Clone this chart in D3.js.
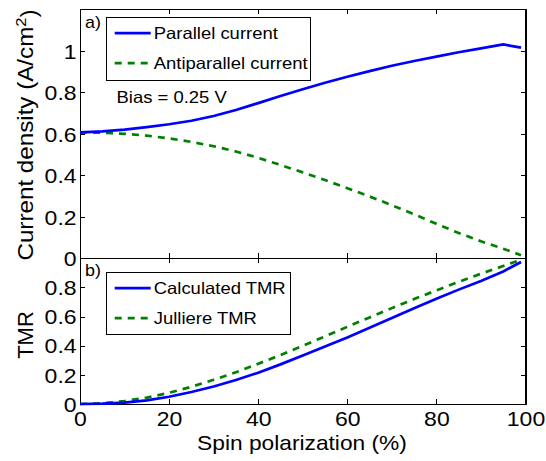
<!DOCTYPE html>
<html>
  <head>
    <meta charset="utf-8">
    <script src="https://d3js.org/d3.v7.min.js"></script>
    <style>
      body { margin: 0; background: #fff; }
      text { font-family: "Liberation Sans", Arial, Helvetica, sans-serif; fill: #000; }
      .axis path, .axis line { stroke: #000; stroke-width: 1; shape-rendering: crispEdges; }
    </style>
  </head>
<body>
<script type="text/javascript">
  // spin polarization (%) shared by all curves
  var polarization = [0, 5, 10, 15, 20, 25, 30, 35, 40, 45, 50, 55, 60, 65, 70, 75, 80, 85, 90, 95, 99];

  // panel a) current density (A/cm^2)
  var parallelCurrent = [0.607, 0.612, 0.620, 0.632, 0.646, 0.663, 0.686, 0.715, 0.748, 0.782, 0.815, 0.846, 0.875, 0.902, 0.928, 0.951, 0.972, 0.993, 1.012, 1.031, 1.015];
  var antiparallelCurrent = [0.607, 0.605, 0.600, 0.591, 0.578, 0.561, 0.540, 0.515, 0.484, 0.450, 0.414, 0.377, 0.338, 0.298, 0.256, 0.212, 0.166, 0.122, 0.082, 0.046, 0.015];

  // panel b) TMR
  var calculatedTMR = [0, 0.002, 0.010, 0.025, 0.050, 0.082, 0.120, 0.165, 0.215, 0.272, 0.333, 0.395, 0.457, 0.523, 0.590, 0.657, 0.722, 0.785, 0.845, 0.910, 0.975];
  var julliereTMR = [0, 0.005, 0.020, 0.044, 0.077, 0.118, 0.166, 0.218, 0.276, 0.336, 0.400, 0.464, 0.530, 0.594, 0.658, 0.720, 0.780, 0.838, 0.894, 0.947, 0.990];

  var xTicks = [0, 20, 40, 60, 80, 100];
  var yTicksA = [0, 0.2, 0.4, 0.6, 0.8, 1];
  var yTicksB = [0, 0.2, 0.4, 0.6, 0.8];

  function draw() {
    "use strict";
    var width = 546, height = 461;
    var left = 80, right = 525.5;
    var topA = 9.3, bottomA = 258.3, bottomB = 404;
    var sx = 1.12; // text in the figure is a bit wider than Helvetica
    var tickSize = "20px";
    var blue = "#0000ff", green = "#008000";

    var svg = d3.select("body").append("svg")
        .attr("width", width)
        .attr("height", height);

    var x = d3.scaleLinear().domain([0, 100]).range([left, right]);
    var yA = d3.scaleLinear().domain([0, 1.2]).range([bottomA, topA]);
    var yB = d3.scaleLinear().domain([0, 1]).range([bottomB, bottomA]);

    function stretch(sel, s) {
      sel.attr("transform", "scale(" + (s || 1.15) + ",1)");
    }

    // box with inward ticks on all four sides (matlab style)
    function panel(y, yTicks, showX) {
      var g = svg.append("g");
      var y0 = y.range()[0], y1 = y.range()[1];

      var bx = g.append("g").attr("class", "axis")
          .attr("transform", "translate(0," + y0 + ")")
          .call(d3.axisBottom(x).tickValues(xTicks).tickSizeInner(-5).tickSizeOuter(0).tickPadding(8));
      bx.selectAll("text").style("font-size", tickSize).attr("dy", "0.7em").call(stretch);
      if (!showX) bx.selectAll("text").remove();

      var tx = g.append("g").attr("class", "axis")
          .attr("transform", "translate(0," + y1 + ")")
          .call(d3.axisTop(x).tickValues(xTicks).tickSizeInner(-5).tickSizeOuter(0));
      tx.selectAll("text").remove();

      var ly = g.append("g").attr("class", "axis")
          .attr("transform", "translate(" + left + ",0)")
          .call(d3.axisLeft(y).tickValues(yTicks).tickSizeInner(-5).tickSizeOuter(0).tickPadding(3)
            .tickFormat(function (d) { return d === 0 ? "0" : d === 1 ? "1" : d3.format(".1f")(d); }));
      ly.selectAll("text").style("font-size", tickSize).attr("dy", "0.36em").call(stretch);

      var ry = g.append("g").attr("class", "axis")
          .attr("transform", "translate(" + right + ",0)")
          .call(d3.axisRight(y).tickValues(yTicks).tickSizeInner(-5).tickSizeOuter(0));
      ry.selectAll("text").remove();

      g.append("rect")
          .attr("x", left).attr("y", y1)
          .attr("width", right - left).attr("height", y0 - y1)
          .attr("fill", "none").attr("stroke", "#000").attr("shape-rendering", "crispEdges");
      return g;
    }

    function curve(y, values, color, dashed) {
      var line = d3.line()
          .x(function (d, i) { return x(polarization[i]); })
          .y(function (d) { return y(d); });
      svg.append("path")
          .datum(values)
          .attr("d", line)
          .attr("fill", "none")
          .attr("stroke", color)
          .attr("stroke-width", 2.7)
          .attr("stroke-dasharray", dashed ? "7,6" : null);
    }

    function legend(x0, y0, w, h, rows) {
      var g = svg.append("g");
      g.append("rect")
          .attr("x", x0).attr("y", y0).attr("width", w).attr("height", h)
          .attr("fill", "#fff").attr("stroke", "#000").attr("shape-rendering", "crispEdges");
      rows.forEach(function (r, i) {
        var cy = y0 + 15.5 + i * 30;
        g.append("line")
            .attr("x1", x0 + 8).attr("x2", x0 + 44)
            .attr("y1", cy).attr("y2", cy)
            .attr("stroke", r.color).attr("stroke-width", 2.7)
            .attr("stroke-dasharray", r.dashed ? "7,6" : null);
        g.append("text")
            .attr("x", (x0 + 47) / sx).attr("y", cy)
            .attr("dy", "0.36em")
            .style("font-size", "16.5px")
            .attr("transform", "scale(" + sx + ",1)")
            .text(r.label);
      });
    }

    function label(txt, x0, y0, size) {
      return svg.append("text")
          .attr("x", x0 / sx).attr("y", y0)
          .attr("transform", "scale(" + sx + ",1)")
          .style("font-size", size + "px")
          .text(txt);
    }

    // panel a)
    panel(yA, yTicksA, false);
    curve(yA, antiparallelCurrent, green, true);
    curve(yA, parallelCurrent, blue, false);
    legend(106.7, 17.7, 204, 62.3, [
      { label: "Parallel current", color: blue, dashed: false },
      { label: "Antiparallel current", color: green, dashed: true }
    ]);
    label("a)", 85, 28, 16);
    label("Bias = 0.25 V", 116.5, 103, 16.5);

    // panel b)
    panel(yB, yTicksB, true);
    curve(yB, julliereTMR, green, true);
    curve(yB, calculatedTMR, blue, false);
    legend(106.7, 272.7, 183.3, 61.6, [
      { label: "Calculated TMR", color: blue, dashed: false },
      { label: "Julliere TMR", color: green, dashed: true }
    ]);
    label("b)", 85, 276.5, 16);

    // axis titles
    svg.append("text")
        .attr("x", 302 / 1.11).attr("y", 450.5)
        .attr("transform", "scale(1.11,1)")
        .attr("text-anchor", "middle")
        .style("font-size", "20.5px")
        .text("Spin polarization (%)");

    var yl = svg.append("text")
        .attr("transform", "translate(32.5,135) rotate(-90) scale(1.1,1)")
        .attr("text-anchor", "middle")
        .style("font-size", "22px");
    yl.append("tspan").text("Current density (A/cm");
    yl.append("tspan").attr("dy", "-0.45em").style("font-size", "15px").text("2");
    yl.append("tspan").attr("dy", "0.45em").text(")");

    svg.append("text")
        .attr("transform", "translate(32.5,335) rotate(-90)")
        .attr("text-anchor", "middle")
        .style("font-size", "22px")
        .text("TMR");
  }

  draw();
</script>
</body>
</html>
